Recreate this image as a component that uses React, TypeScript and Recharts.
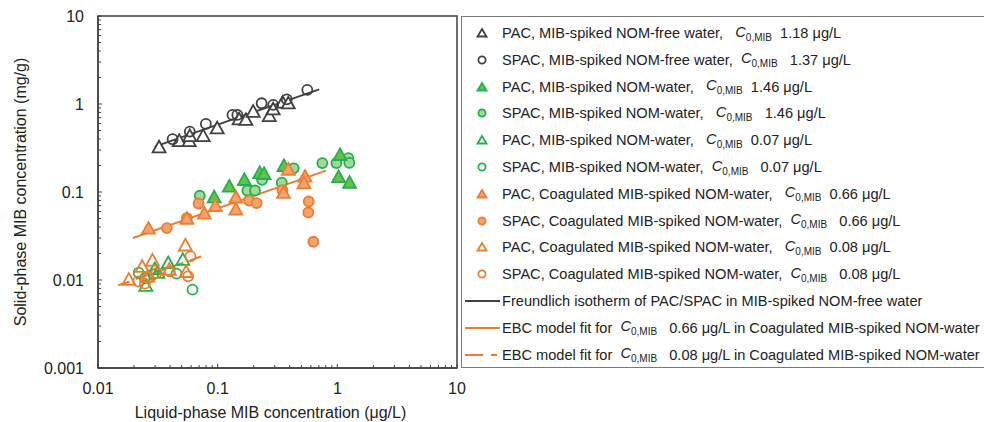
import React from "react";
import {
  ScatterChart,
  Scatter,
  XAxis,
  YAxis,
  ReferenceArea,
  Legend,
} from "recharts";

// PAC, MIB-spiked NOM-free water, C0 1.18
const pacFreeX = [0.0324, 0.0477, 0.0578, 0.0585, 0.0757, 0.0991, 0.151, 0.172, 0.198, 0.27, 0.291, 0.349, 0.389];
const pacFreeY = [0.323, 0.381, 0.381, 0.434, 0.434, 0.531, 0.672, 0.662, 0.82, 0.733, 0.873, 1.04, 1.02];
// SPAC, MIB-spiked NOM-free water, C0 1.37
const spacFreeX = [0.042, 0.0585, 0.0797, 0.133, 0.146, 0.233, 0.291, 0.378, 0.561];
const spacFreeY = [0.398, 0.486, 0.594, 0.752, 0.752, 1.02, 0.977, 1.13, 1.45];
// PAC, MIB-spiked NOM-water, C0 1.46
const pacNomX = [0.0935, 0.125, 0.167, 0.225, 0.244, 0.358, 1.054, 1.024, 1.265];
const pacNomY = [0.0875, 0.1155, 0.1376, 0.165, 0.161, 0.198, 0.264, 0.148, 0.128];
// SPAC, MIB-spiked NOM-water, C0 1.46
const spacNomX = [0.0709, 0.177, 0.205, 0.235, 0.343, 0.432, 0.749, 0.982, 1.237, 1.26];
const spacNomY = [0.0906, 0.104, 0.104, 0.1376, 0.128, 0.186, 0.213, 0.213, 0.243, 0.214];
// PAC, MIB-spiked NOM-water, C0 0.07
const pacNomLowX = [0.0251, 0.0298, 0.0386, 0.0511, 0.0316];
const pacNomLowY = [0.00861, 0.01333, 0.0156, 0.017, 0.0121];
// SPAC, MIB-spiked NOM-water, C0 0.07
const spacNomLowX = [0.0219, 0.029, 0.0453, 0.0616, 0.0246];
const spacNomLowY = [0.0121, 0.0116, 0.0118, 0.00776, 0.0105];
// PAC, coagulated, C0 0.66
const pacCoagX = [0.0264, 0.0553, 0.0774, 0.0957, 0.142, 0.142, 0.355, 0.389, 0.537, 0.526];
const pacCoagY = [0.0385, 0.0499, 0.057, 0.0697, 0.0867, 0.0634, 0.098, 0.18, 0.15, 0.126];
// SPAC, coagulated, C0 0.66
const spacCoagX = [0.0376, 0.0553, 0.0692, 0.183, 0.212, 0.348, 0.577, 0.572, 0.63];
const spacCoagY = [0.0389, 0.0506, 0.074, 0.08, 0.0748, 0.105, 0.078, 0.0585, 0.0272];
// PAC, coagulated, C0 0.08
const pacCoagLowX = [0.0181, 0.0234, 0.0285, 0.0537, 0.0545, 0.0394, 0.0261];
const pacCoagLowY = [0.0101, 0.01416, 0.0167, 0.0248, 0.0124, 0.0131, 0.011];
// SPAC, coagulated, C0 0.08
const spacCoagLowX = [0.0216, 0.0246, 0.0308, 0.0398, 0.0566, 0.0593, 0.0261];
const spacCoagLowY = [0.00964, 0.00908, 0.012, 0.01253, 0.011, 0.01853, 0.0106];

// fit lines (end points)
const freundlichX = [0.0298, 0.706];
const freundlichY = [0.328, 1.47];
const ebcHighX = [0.0196, 0.804];
const ebcHighY = [0.03, 0.175];
const ebcLowX = [0.0147, 0.0809];
const ebcLowY = [0.00869, 0.0194];

const xMajor = [0.01, 0.1, 1, 10];
const xMajorLabels = ["0.01", "0.1", "1", "10"];
const yMajor = [0.001, 0.01, 0.1, 1, 10];
const yMajorLabels = ["0.001", "0.01", "0.1", "1", "10"];

const legendLabels = [
  ["PAC, MIB-spiked NOM-free water,   ", "  1.18 μg/L"],
  ["SPAC, MIB-spiked NOM-free water,  ", "   1.37 μg/L"],
  ["PAC, MIB-spiked NOM-water,   ", "  1.46 μg/L"],
  ["SPAC, MIB-spiked NOM-water,   ", "   1.46 μg/L"],
  ["PAC, MIB-spiked NOM-water,   ", "  0.07 μg/L"],
  ["SPAC, MIB-spiked NOM-water,  ", "   0.07 μg/L"],
  ["PAC, Coagulated MIB-spiked NOM-water,   ", "  0.66 μg/L"],
  ["SPAC, Coagulated MIB-spiked NOM-water,  ", "   0.66 μg/L"],
  ["PAC, Coagulated MIB-spiked NOM-water,   ", "  0.08 μg/L"],
  ["SPAC, Coagulated MIB-spiked NOM-water,  ", "   0.08 μg/L"],
];
const lineLegend = [
  ["Freundlich isotherm of PAC/SPAC in MIB-spiked NOM-free water", ""],
  ["EBC model fit for  ", "   0.66 μg/L in Coagulated MIB-spiked NOM-water"],
  ["EBC model fit for  ", "   0.08 μg/L in Coagulated MIB-spiked NOM-water"],
];

const GRAY = "#404040";
const GREEN = "#22b14c";
const GREEN_TRI = "#6abf4b";
const GREEN_CIR = "#a5d69a";
const ORANGE = "#ed7d31";
const ORANGE_FILL = "#f3a36c";
const FONT = "'Liberation Sans', Arial, sans-serif";

const zip = (xs: number[], ys: number[]) => xs.map((x, i) => ({ x, y: ys[i] }));

const minors = (majors: number[]) => {
  const out: number[] = [];
  majors.forEach((m, i) => {
    out.push(m);
    if (i < majors.length - 1) for (let k = 2; k <= 9; k++) out.push(+(m * k).toPrecision(3));
  });
  return out;
};

const makeTri = (stroke: string, fill: string, s = 6.5) => (p: any) => {
  const { cx, cy } = p;
  if (cx == null) return <g />;
  return (
    <path
      d={`M${cx},${cy - s} L${cx + s},${cy + s * 0.8} L${cx - s},${cy + s * 0.8} Z`}
      stroke={stroke}
      strokeWidth={1.8}
      fill={fill}
    />
  );
};
const makeCir = (stroke: string, fill: string, r = 5) => (p: any) => {
  const { cx, cy } = p;
  if (cx == null) return <g />;
  return <circle cx={cx} cy={cy} r={r} stroke={stroke} strokeWidth={1.8} fill={fill} />;
};
const noDot = () => <g />;

const series = [
  { d: zip(pacFreeX, pacFreeY), kind: "tri", stroke: GRAY, fill: "#fff" },
  { d: zip(spacFreeX, spacFreeY), kind: "cir", stroke: GRAY, fill: "none" },
  { d: zip(spacNomX, spacNomY), kind: "cir", stroke: GREEN, fill: GREEN_CIR },
  { d: zip(pacNomX, pacNomY), kind: "tri", stroke: GREEN, fill: GREEN_TRI },
  { d: zip(pacNomLowX, pacNomLowY), kind: "tri", stroke: GREEN, fill: "none" },
  { d: zip(spacNomLowX, spacNomLowY), kind: "cir", stroke: GREEN, fill: "none" },
  { d: zip(spacCoagX, spacCoagY), kind: "cir", stroke: ORANGE, fill: ORANGE_FILL },
  { d: zip(pacCoagX, pacCoagY), kind: "tri", stroke: ORANGE, fill: ORANGE_FILL },
  { d: zip(pacCoagLowX, pacCoagLowY), kind: "tri", stroke: ORANGE, fill: "none" },
  { d: zip(spacCoagLowX, spacCoagLowY), kind: "cir", stroke: ORANGE, fill: "none" },
];

const legendMarks = [
  ["tri", GRAY, "#fff"],
  ["cir", GRAY, "none"],
  ["tri", GREEN, GREEN_TRI],
  ["cir", GREEN, GREEN_CIR],
  ["tri", GREEN, "none"],
  ["cir", GREEN, "none"],
  ["tri", ORANGE, ORANGE_FILL],
  ["cir", ORANGE, ORANGE_FILL],
  ["tri", ORANGE, "none"],
  ["cir", ORANGE, "none"],
];

const XTick = (p: any) => {
  const { x, y, payload } = p;
  const i = xMajor.indexOf(payload.value);
  return (
    <g>
      <line x1={x} x2={x} y1={y} y2={y - (i >= 0 ? 4 : 3)} stroke={GRAY} strokeWidth={1} />
      {i >= 0 && (
        <text x={x} y={y + 26} textAnchor="middle" fontSize={16} fill="#222" fontFamily={FONT}>
          {xMajorLabels[i]}
        </text>
      )}
    </g>
  );
};
const YTick = (p: any) => {
  const { x, y, payload } = p;
  const i = yMajor.indexOf(payload.value);
  return (
    <g>
      <line x1={x} x2={x + (i >= 0 ? 4 : 3)} y1={y} y2={y} stroke={GRAY} strokeWidth={1} />
      {i >= 0 && (
        <text x={x - 14} y={y + 6} textAnchor="end" fontSize={16} fill="#222" fontFamily={FONT}>
          {yMajorLabels[i]}
        </text>
      )}
    </g>
  );
};

const C0 = () => (
  <span>
    <i>C</i>
    <sub style={{ fontSize: 10 }}>0,MIB</sub>
  </span>
);

const LegendBox = () => (
  <div
    style={{
      position: "absolute",
      left: 461,
      top: 16,
      width: 540,
      height: 350,
      border: "1.5px solid #7a7a7a",
      fontFamily: FONT,
      fontSize: 14.6,
      color: "#222",
      background: "#fff",
    }}
  >
    {legendLabels.map((l, i) => {
      const [kind, stroke, fill] = legendMarks[i];
      return (
        <div key={i} style={{ position: "absolute", left: 0, top: 4 + i * 26.8, height: 24, display: "flex", alignItems: "center", whiteSpace: "pre" }}>
          <svg width={40} height={24}>
            {kind === "tri" ? (
              <path d="M20,8 L24.5,15.5 L15.5,15.5 Z" stroke={stroke} strokeWidth={1.8} fill={fill} />
            ) : (
              <circle cx={20} cy={12} r={3.6} stroke={stroke} strokeWidth={1.8} fill={fill} />
            )}
          </svg>
          <span>{l[0]}</span>
          <C0 />
          <span>{l[1]}</span>
        </div>
      );
    })}
    {lineLegend.map((l, i) => (
      <div key={"l" + i} style={{ position: "absolute", left: 0, top: 4 + (10 + i) * 26.8, height: 24, display: "flex", alignItems: "center", whiteSpace: "pre" }}>
        <svg width={40} height={24}>
          <line
            x1={3}
            x2={38}
            y1={12}
            y2={12}
            stroke={i === 0 ? GRAY : ORANGE}
            strokeWidth={2}
            strokeDasharray={i === 2 ? "18 8 6" : undefined}
          />
        </svg>
        <span>{l[0]}</span>
        {i > 0 && <C0 />}
        <span>{l[1]}</span>
      </div>
    ))}
  </div>
);

export default function App() {
  return (
    <div style={{ position: "absolute", left: 0, top: 0, width: 984, height: 422, background: "#fff" }}>
      <ScatterChart width={984} height={422} margin={{ top: 16, right: 527, left: 0, bottom: 0 }}>
        <XAxis
          type="number"
          dataKey="x"
          scale="log"
          domain={[0.01, 10]}
          allowDataOverflow
          ticks={minors(xMajor)}
          interval={0}
          tick={<XTick />}
          tickSize={0}
          tickMargin={0}
          tickLine={false}
          height={54}
          axisLine={{ stroke: GRAY, strokeWidth: 1.5 }}
          label={{
            value: "Liquid-phase MIB concentration (μg/L)",
            position: "center",
            dx: -7,
            dy: 17,
            style: { fontSize: 16, fill: "#222", fontFamily: FONT },
          }}
        />
        <YAxis
          type="number"
          dataKey="y"
          scale="log"
          domain={[0.001, 10]}
          allowDataOverflow
          ticks={minors(yMajor)}
          interval={0}
          tick={<YTick />}
          tickSize={0}
          tickMargin={0}
          tickLine={false}
          width={98}
          axisLine={{ stroke: GRAY, strokeWidth: 1.5 }}
          label={{
            value: "Solid-phase MIB concentration (mg/g)",
            angle: -90,
            position: "center",
            dx: -29,
            style: { fontSize: 16, fill: "#222", fontFamily: FONT, textAnchor: "middle" },
          }}
        />
        <ReferenceArea x1={0.01} x2={10} y1={0.001} y2={10} fill="none" stroke={GRAY} strokeWidth={1.5} fillOpacity={0} />
        <Scatter data={zip(freundlichX, freundlichY)} line={{ stroke: GRAY, strokeWidth: 1.8 }} shape={noDot} isAnimationActive={false} />
        <Scatter data={zip(ebcHighX, ebcHighY)} line={{ stroke: ORANGE, strokeWidth: 2 }} shape={noDot} isAnimationActive={false} />
        <Scatter data={zip(ebcLowX, ebcLowY)} line={{ stroke: ORANGE, strokeWidth: 2, strokeDasharray: "12 7" }} shape={noDot} isAnimationActive={false} />
        {series.map((s, i) => (
          <Scatter
            key={i}
            data={s.d}
            shape={s.kind === "tri" ? makeTri(s.stroke, s.fill) : makeCir(s.stroke, s.fill)}
            isAnimationActive={false}
          />
        ))}
        <Legend content={() => null} />
      </ScatterChart>
      <LegendBox />
    </div>
  );
}
